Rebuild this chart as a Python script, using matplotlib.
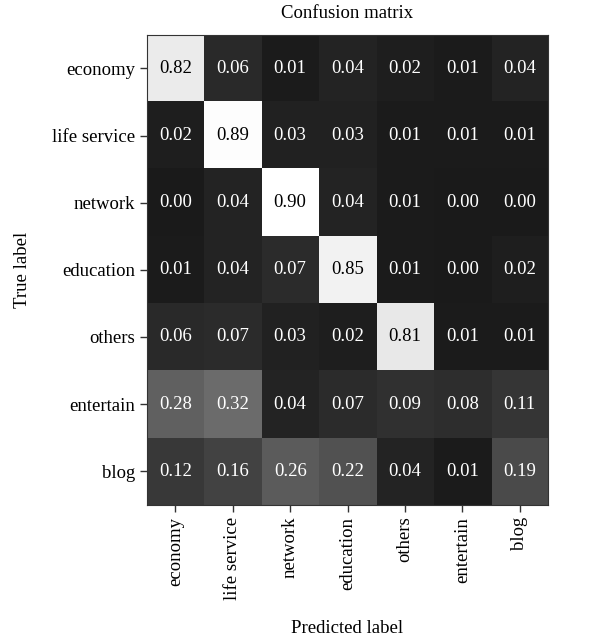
import numpy as np
import matplotlib
matplotlib.use("Agg")
import matplotlib.pyplot as plt
from matplotlib.colors import LinearSegmentedColormap

classes = ["economy", "life service", "network", "education", "others", "entertain", "blog"]

cm = np.array([
    [0.82, 0.06, 0.01, 0.04, 0.02, 0.01, 0.04],
    [0.02, 0.89, 0.03, 0.03, 0.01, 0.01, 0.01],
    [0.00, 0.04, 0.90, 0.04, 0.01, 0.00, 0.00],
    [0.01, 0.04, 0.07, 0.85, 0.01, 0.00, 0.02],
    [0.06, 0.07, 0.03, 0.02, 0.81, 0.01, 0.01],
    [0.28, 0.32, 0.04, 0.07, 0.09, 0.08, 0.11],
    [0.12, 0.16, 0.26, 0.22, 0.04, 0.01, 0.19],
])

plt.rcParams['font.family'] = ['Liberation Serif', 'DejaVu Serif']
fs = 13.5

grays = LinearSegmentedColormap.from_list("grays", ["#1a1a1a", "#ffffff"])

fig = plt.figure(figsize=(6.14, 6.44), dpi=100)
ax = fig.add_axes([0.239, 0.216, 0.654, 0.730])
ax.imshow(cm, cmap=grays, aspect='auto', interpolation='nearest', vmin=0, vmax=0.9)
for s in ax.spines.values():
    s.set_color("#333333")

ax.set_xticks(range(len(classes)))
ax.set_xticklabels(classes, rotation=90, fontsize=fs)
ax.set_yticks(range(len(classes)))
ax.set_yticklabels(classes, fontsize=fs)
ax.tick_params(length=5, width=1, color="#333333")

thresh = cm.max() / 2.
for i in range(cm.shape[0]):
    for j in range(cm.shape[1]):
        ax.text(j, i, "%.2f" % cm[i, j], ha="center", va="center", fontsize=fs,
                color="black" if cm[i, j] > thresh else "white")

ax.text(0.5, 1.045, "Confusion matrix", transform=ax.transAxes, ha="center", va="center", fontsize=fs)
ax.set_ylabel("True label", fontsize=fs)
ax.yaxis.set_label_coords(-0.31, 0.5)
ax.set_xlabel("Predicted label", fontsize=fs)
ax.xaxis.set_label_coords(0.5, -0.262)
ax.xaxis.label.set_va("center")
ax.yaxis.label.set_va("center")

fig.savefig("out.png", dpi=100)
